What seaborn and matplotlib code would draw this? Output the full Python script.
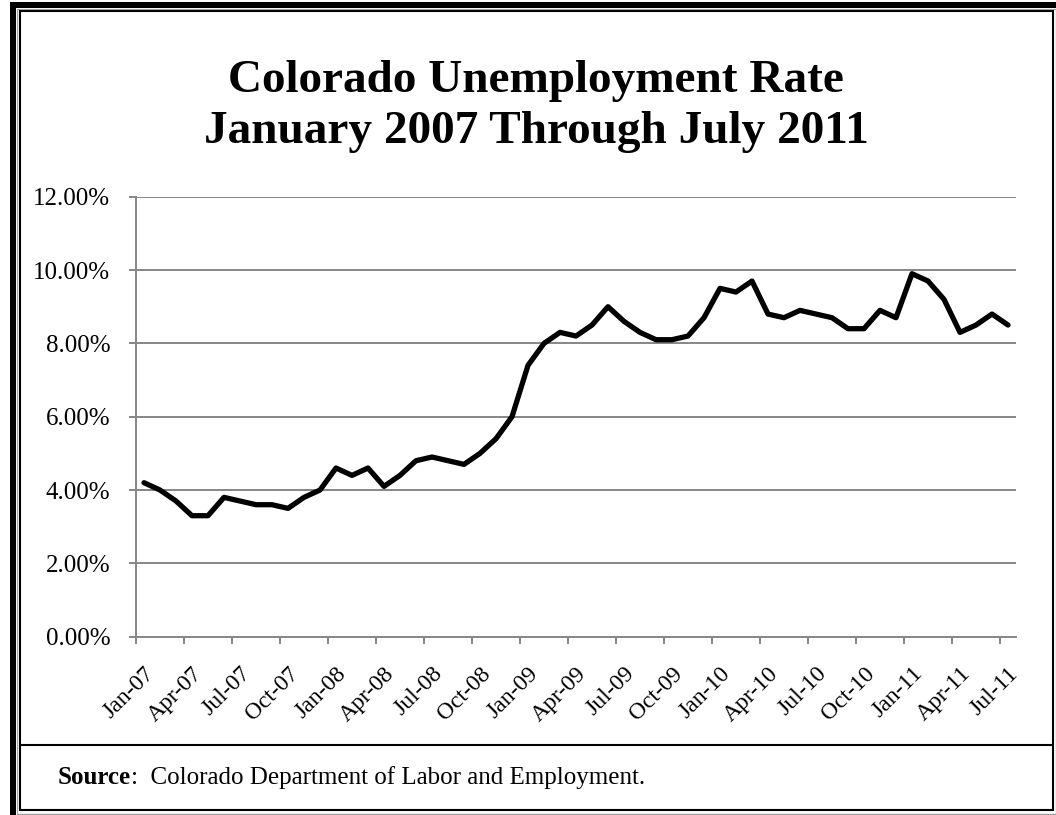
# Colorado unemployment rate, Jan 2007 - Jul 2011 (monthly line chart)
import numpy as np
import pandas as pd
import matplotlib
matplotlib.use('Agg')
import matplotlib.pyplot as plt
from matplotlib.patches import Rectangle
from matplotlib.lines import Line2D
from matplotlib.ticker import FuncFormatter
import seaborn as sns

# data (percent)
months = ['Jan-07', 'Feb-07', 'Mar-07', 'Apr-07', 'May-07', 'Jun-07',
          'Jul-07', 'Aug-07', 'Sep-07', 'Oct-07', 'Nov-07', 'Dec-07',
          'Jan-08', 'Feb-08', 'Mar-08', 'Apr-08', 'May-08', 'Jun-08',
          'Jul-08', 'Aug-08', 'Sep-08', 'Oct-08', 'Nov-08', 'Dec-08',
          'Jan-09', 'Feb-09', 'Mar-09', 'Apr-09', 'May-09', 'Jun-09',
          'Jul-09', 'Aug-09', 'Sep-09', 'Oct-09', 'Nov-09', 'Dec-09',
          'Jan-10', 'Feb-10', 'Mar-10', 'Apr-10', 'May-10', 'Jun-10',
          'Jul-10', 'Aug-10', 'Sep-10', 'Oct-10', 'Nov-10', 'Dec-10',
          'Jan-11', 'Feb-11', 'Mar-11', 'Apr-11', 'May-11', 'Jun-11',
          'Jul-11']
rate = [4.2, 4.0, 3.7, 3.3, 3.3, 3.8, 3.7, 3.6, 3.6, 3.5, 3.8, 4.0,
        4.6, 4.4, 4.6, 4.1, 4.4, 4.8, 4.9, 4.8, 4.7, 5.0, 5.4, 6.0,
        7.4, 8.0, 8.3, 8.2, 8.5, 9.0, 8.6, 8.3, 8.1, 8.1, 8.2, 8.7,
        9.5, 9.4, 9.7, 8.8, 8.7, 8.9, 8.8, 8.7, 8.4, 8.4, 8.9, 8.7,
        9.9, 9.7, 9.2, 8.3, 8.5, 8.8, 8.5]
y_ticks = [0, 2, 4, 6, 8, 10, 12]
title_lines = ['Colorado Unemployment Rate', 'January 2007 Through July 2011']
source_label = 'Source'
source_text = ':  Colorado Department of Labor and Employment.'

df = pd.DataFrame({'pos': np.arange(len(months)), 'month': months, 'rate': rate})

sns.set_theme(style='white')
plt.rcParams['font.family'] = ['Liberation Serif', 'DejaVu Serif']
plt.rcParams['text.color'] = 'black'

W, H = 1056, 815
def fx(x):
    return x / W
def fy(y):
    return 1 - y / H

grey = '#868686'
fig = plt.figure(figsize=(W / 100, H / 100), dpi=100)
fig.patch.set_facecolor('white')
ax = fig.add_axes([fx(136), fy(636.7), fx(1016) - fx(136), fy(196.7) - fy(636.7)])

sns.lineplot(data=df, x='pos', y='rate', color='black', lw=3.8,
             solid_joinstyle='round', ax=ax)

ax.set_xlim(-0.5, len(months) - 0.5)
ax.set_ylim(0, 12)
ax.set_yticks(y_ticks)
ax.yaxis.set_major_formatter(FuncFormatter(lambda v, p: '%.2f%%' % v))
ax.set_xlabel('')
ax.set_ylabel('')

# ticks on category boundaries, labels on every third month
ax.set_xticks(np.arange(-0.5, len(months), 3))
ax.set_xticklabels([])
ax.set_xticks(df['pos'][::3], df['month'][::3], minor=True)
for lbl in ax.get_xticklabels(minor=True):
    lbl.set(rotation=45, ha='right', va='top', rotation_mode='anchor', fontsize=17)
ax.tick_params(axis='x', which='major', bottom=True, length=5, width=1.4, color=grey, direction='out')
ax.tick_params(axis='x', which='minor', bottom=True, length=0, pad=19, labelcolor='black')
ax.tick_params(axis='y', left=True, length=5, width=1.4, color=grey, direction='out', pad=13.5,
               labelsize=18, labelcolor='black')

ax.yaxis.grid(True, color=grey, lw=1.4)
ax.xaxis.grid(False)
for s in ['top', 'right']:
    ax.spines[s].set_visible(False)
for s in ['left', 'bottom']:
    ax.spines[s].set_color(grey)
    ax.spines[s].set_linewidth(1.4)

# title
fig.text(fx(536), fy(92), title_lines[0], ha='center', va='baseline', fontsize=34, fontweight='bold')
fig.text(fx(536), fy(143), title_lines[1], ha='center', va='baseline', fontsize=34, fontweight='bold')

# frame
fig.add_artist(Rectangle((fx(10), 0), fx(16) - fx(10), fy(2), transform=fig.transFigure,
                         facecolor='black', edgecolor='none'))
fig.add_artist(Rectangle((fx(10), fy(7.5)), 1 - fx(10), fy(2) - fy(7.5), transform=fig.transFigure,
                         facecolor='black', edgecolor='none'))
fig.add_artist(Line2D([fx(17), fx(17)], [0, fy(9)], color='#a0a0a0', lw=0.8, transform=fig.transFigure))
fig.add_artist(Line2D([fx(17), 1], [fy(9), fy(9)], color='#a0a0a0', lw=0.8, transform=fig.transFigure))
fig.add_artist(Rectangle((fx(19.5), fy(810)), fx(1053) - fx(19.5), fy(11) - fy(810), transform=fig.transFigure,
                         fill=False, edgecolor='black', lw=1.5))
fig.add_artist(Line2D([fx(1055.5), fx(1055.5)], [0, fy(9)], color='#a0a0a0', lw=1, transform=fig.transFigure))
fig.add_artist(Line2D([fx(17), 1], [fy(814), fy(814)], color='#a0a0a0', lw=1, transform=fig.transFigure))
fig.add_artist(Line2D([fx(19.5), fx(1053)], [fy(745), fy(745)], color='black', lw=1.5, transform=fig.transFigure))

# source note
t1 = fig.text(fx(58), fy(784), source_label, ha='left', va='baseline', fontsize=18, fontweight='bold')
r = fig.canvas.get_renderer()
bb = t1.get_window_extent(r)
fig.text(bb.x1 / W, fy(784), source_text, ha='left', va='baseline', fontsize=18)

fig.savefig('out.png', dpi=100)
